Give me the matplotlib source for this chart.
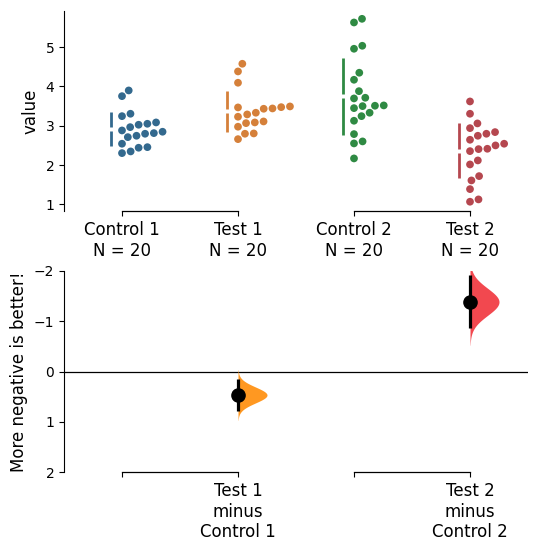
import numpy as np
import matplotlib
matplotlib.use('Agg')
import matplotlib.pyplot as plt

# ---------------- data ----------------
groups = ['Control 1', 'Test 1', 'Control 2', 'Test 2']
group_n = [20, 20, 20, 20]

control_1 = [3.753, 3.898, 3.244, 3.305, 2.880, 2.964, 3.025, 3.050, 3.084,
             2.710, 2.745, 2.796, 2.812, 2.847, 2.542, 2.303, 2.346, 2.440,
             2.455]
test_1 = [4.577, 4.382, 4.094, 3.466, 3.331, 3.432, 3.473, 3.288, 3.440,
          3.491, 3.229, 3.066, 3.084, 3.109, 2.975, 2.659, 2.796, 2.804]
control_2 = [5.628, 5.721, 4.959, 5.035, 4.170, 4.349, 3.880, 3.695, 3.712,
             3.448, 3.499, 3.509, 3.517, 3.127, 3.244, 3.331, 2.550, 2.601,
             2.787, 2.168]
test_2 = [3.618, 3.305, 2.939, 3.059, 2.643, 2.745, 2.796, 2.838, 2.354,
          2.405, 2.414, 2.499, 2.542, 2.015, 2.117, 1.608, 1.718, 1.387,
          1.066, 1.125]

group_values = [control_1, test_1, control_2, test_2]
comparisons = [(1, 0), (3, 2)]   # (test index, control index)
delta_labels = ['', 'Test 1\nminus\nControl 1', '', 'Test 2\nminus\nControl 2']

swarm_colors = ['#33698e', '#d5803a', '#2f8a43', '#b5474f']
violin_colors = ['#ff9821', '#f2484f']

# ---------------- figure ----------------
W, H = 538, 551
fig = plt.figure(figsize=(W / 100, H / 100), dpi=100)
ax1 = fig.add_axes([64 / W, 1 - 211 / H, 464 / W, 200 / H])
ax2 = fig.add_axes([64 / W, 1 - 472 / H, 464 / W, 201 / H])

xlim = (-0.5, 3.5)
ax1.set_xlim(*xlim)
ax1.set_ylim(0.83, 5.92)
ax2.set_xlim(*xlim)
ax2.set_ylim(2, -2)

# ---------------- swarm (one-sided) ----------------
def swarm_offsets(ypix, d):
    ypix = np.asarray(ypix)
    order = np.argsort(ypix)
    placed_x, placed_y = [], []
    xs = np.zeros(len(ypix))
    for i in order:
        y = ypix[i]
        cands = [0.0]
        for px, py in zip(placed_x, placed_y):
            dy = abs(py - y)
            if dy < d:
                dx = np.sqrt(d * d - dy * dy)
                cands += [px + dx, px - dx]
        cands = sorted(c for c in cands if c >= 0)
        for c in cands:
            ok = all((c - px) ** 2 + (py - y) ** 2 >= d * d - 1e-6
                     for px, py in zip(placed_x, placed_y))
            if ok:
                break
        xs[i] = c
        placed_x.append(c)
        placed_y.append(y)
    return xs

fig.canvas.draw()
t = ax1.transData
px_per_x = t.transform((1, 0))[0] - t.transform((0, 0))[0]
px_per_y = t.transform((0, 1))[1] - t.transform((0, 0))[1]
d_px = 8.8

for gi, vals in enumerate(group_values):
    vals = np.asarray(vals)
    off = swarm_offsets(vals * px_per_y, d_px) / px_per_x
    ax1.scatter(gi + off, vals, s=31, color=swarm_colors[gi],
                edgecolors='none', zorder=3)
    m, sd = vals.mean(), vals.std(ddof=1)
    xbar = gi - 11.0 / px_per_x
    gap = 2.0 / px_per_y
    ax1.plot([xbar, xbar], [m - sd, m - gap], color=swarm_colors[gi],
             lw=2, solid_capstyle='butt')
    ax1.plot([xbar, xbar], [m + gap, m + sd], color=swarm_colors[gi],
             lw=2, solid_capstyle='butt')

# ---------------- top axis styling ----------------
for s in ['top', 'right', 'bottom']:
    ax1.spines[s].set_visible(False)
ax1.set_xticks(range(len(groups)))
ax1.set_xticklabels([f'{g}\nN = {n}' for g, n in zip(groups, group_n)],
                    fontsize=12)
ax1.set_yticks([1, 2, 3, 4, 5])
ax1.tick_params(axis='y', labelsize=10)
ax1.set_ylabel('value', fontsize=12)
ybot = ax1.get_ylim()[0]
for ti, ci in comparisons:
    ax1.plot([ci, ti], [ybot, ybot], color='black', lw=0.9, clip_on=False)

# ---------------- delta plot ----------------
ax2.axhline(0, color='black', lw=0.9)
for k, (ti, ci) in enumerate(comparisons):
    a = np.asarray(group_values[ti])
    b = np.asarray(group_values[ci])
    diff = a.mean() - b.mean()
    se = np.sqrt(a.var(ddof=1) / len(a) + b.var(ddof=1) / len(b))
    yy = np.linspace(diff - 3.2 * se, diff + 3.2 * se, 300)
    dens = np.exp(-0.5 * ((yy - diff) / se) ** 2)
    width = 0.25 * dens / dens.max()
    ax2.fill_betweenx(yy, ti, ti + width, color=violin_colors[k],
                      lw=0, zorder=2)
    lo, hi = diff - 1.96 * se, diff + 1.96 * se
    ax2.plot([ti, ti], [lo, hi], color='black', lw=2.3, zorder=3,
             solid_capstyle='butt')
    ax2.plot([ti], [diff], 'o', color='black', ms=9.5, zorder=4)

for s in ['top', 'right', 'bottom']:
    ax2.spines[s].set_visible(False)
ax2.set_xticks(range(len(groups)))
ax2.set_xticklabels(delta_labels, fontsize=12)
ax2.set_yticks([-2, -1, 0, 1, 2])
ax2.tick_params(axis='y', labelsize=10)
ax2.set_ylabel('More negative is better!', fontsize=12)
ybot2 = ax2.get_ylim()[0]
for ti, ci in comparisons:
    ax2.plot([ci, ti], [ybot2, ybot2], color='black', lw=0.9, clip_on=False)

fig.savefig('out.png', dpi=100)
